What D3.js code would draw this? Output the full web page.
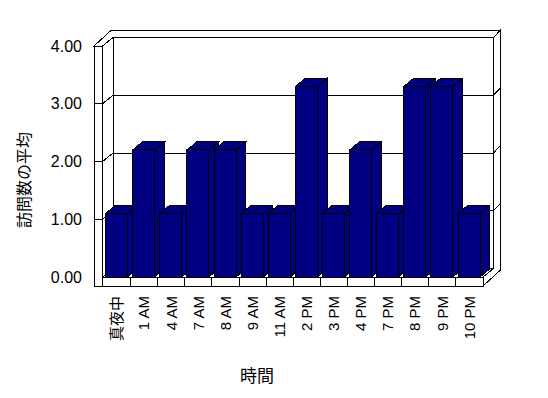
<!DOCTYPE html>
<html>
<head>
<meta charset="utf-8">
<script src="https://cdn.jsdelivr.net/npm/d3@7"></script>
<style>
  body { margin: 0; background: #fff; }
  text { font-family: "Liberation Sans", Arial, "Noto Sans CJK JP", sans-serif; fill: #000; }
  text.cjk { font-family: "Noto Sans CJK JP", sans-serif; }
</style>
</head>
<body>
<svg id="chart" width="548" height="398"></svg>
<script>
// data
var categories = ['真夜中', '1 AM', '4 AM', '7 AM', '8 AM', '9 AM', '11 AM', '2 PM', '3 PM', '4 PM', '7 PM', '8 PM', '9 PM', '10 PM'];
var visits = [1.1, 2.2, 1.1, 2.2, 2.2, 1.1, 1.1, 3.3, 1.1, 2.2, 1.1, 3.3, 3.3, 1.1];
var yTicks = [0, 1, 2, 3, 4];
var yTitle = '訪問数の平均';
var xTitle = '時間';

var barColor = '#000080';
var lineColor = '#000';

var svg = d3.select('#chart');

// front plane scales
var x = d3.scaleBand().domain(categories).range([103.5, 483]);
var y = d3.scaleLinear().domain([0, 4]).range([277, 46]);

// depth of the plot box and thickness of the walls (oblique offsets)
var D = [10.5, -8.5];
var T = [7, -7.5];
var wallW = 8.5;   // left wall thickness
var floorH = 9;    // floor thickness

var x0 = x.range()[0] - 1, x1 = x.range()[1];
var left = x0 - wallW;
var yTop = y(4), yBase = y(0), yFloor = yBase + floorH;

function poly(pts, fill) {
  svg.append('path')
    .attr('d', d3.line()(pts) + 'Z')
    .attr('fill', fill)
    .attr('stroke', lineColor)
    .attr('stroke-width', 1)
    .attr('shape-rendering', 'crispEdges');
}
function seg(a, b) {
  svg.append('line')
    .attr('x1', a[0]).attr('y1', a[1]).attr('x2', b[0]).attr('y2', b[1])
    .attr('stroke', lineColor).attr('stroke-width', 1)
    .attr('shape-rendering', 'crispEdges');
}

// back wall inner face
poly([[x0 + D[0], yTop + D[1]], [x1 + D[0], yTop + D[1]], [x1 + D[0], yBase + D[1]], [x0 + D[0], yBase + D[1]]], '#fff');
// back wall right face
poly([[x1 + D[0], yTop + D[1]], [x1 + D[0] + T[0], yTop + D[1] + T[1]], [x1 + D[0] + T[0], yFloor + D[1] + T[1]], [x1, yFloor], [x1, yBase], [x1 + D[0], yBase + D[1]]], '#fff');
// floor top
poly([[x0, yBase], [x1, yBase], [x1 + D[0], yBase + D[1]], [x0 + D[0], yBase + D[1]]], '#fff');
// floor front
poly([[left, yBase], [x1, yBase], [x1, yFloor], [left, yFloor]], '#fff');
// left wall inner face
poly([[x0, yTop], [x0 + D[0], yTop + D[1]], [x0 + D[0], yBase + D[1]], [x0, yBase]], '#fff');
// left wall front face
poly([[left, yTop], [x0, yTop], [x0, yFloor], [left, yFloor]], '#fff');
// tops of left wall and back wall
poly([[left, yTop], [left + D[0] + T[0], yTop + D[1] + T[1]], [x1 + D[0] + T[0], yTop + D[1] + T[1]],
      [x1 + D[0], yTop + D[1]], [x0 + D[0], yTop + D[1]], [x0, yTop]], '#fff');

// gridlines
yTicks.filter(function(v) { return v > 0 && v < 4; }).forEach(function(v) {
  var yy = y(v);
  seg([left, yy], [x0, yy]);
  seg([x0, yy], [x0 + D[0], yy + D[1]]);
  seg([x0 + D[0], yy + D[1]], [x1 + D[0], yy + D[1]]);
  seg([x1 + D[0], yy + D[1]], [x1 + D[0] + T[0], yy + D[1] + T[1]]);
});

// bars, left to right
var bd = [D[0] * 0.92, D[1] * 0.95];
categories.forEach(function(c, i) {
  var bx = x(c) + x.bandwidth() * 0.08;
  var bw = x.bandwidth() * 0.81;
  var top = y(visits[i]);
  // side
  poly([[bx + bw, top], [bx + bw + bd[0], top + bd[1]], [bx + bw + bd[0], yBase + bd[1]], [bx + bw, yBase]], barColor);
  // top
  poly([[bx, top], [bx + bw, top], [bx + bw + bd[0], top + bd[1]], [bx + bd[0], top + bd[1]]], barColor);
  // front
  poly([[bx, top], [bx + bw, top], [bx + bw, yBase], [bx, yBase]], barColor);
});

// category ticks on the floor front
categories.slice(1).forEach(function(c) {
  seg([x(c), yBase], [x(c), yFloor]);
});

// y labels
svg.selectAll('.ylab').data(yTicks).enter().append('text')
  .attr('x', 82).attr('y', function(d) { return y(d); })
  .attr('dy', '0.35em')
  .attr('text-anchor', 'end')
  .style('font-size', '16px')
  .text(d3.format('.2f'));

// category labels
svg.selectAll('.xlab').data(categories).enter().append('text')
  .attr('class', function(d) { return /[^\x00-\x7f]/.test(d) ? 'cjk' : null; })
  .attr('transform', function(d) { return 'translate(' + (x(d) + x.bandwidth() / 2) + ',296) rotate(-90)'; })
  .attr('dy', '0.35em')
  .attr('text-anchor', 'end')
  .style('font-size', '15px')
  .text(function(d) { return d; });

// titles
svg.append('text')
  .attr('class', 'cjk')
  .attr('transform', 'translate(24,180) rotate(-90)')
  .attr('dy', '0.35em')
  .attr('text-anchor', 'middle')
  .style('font-size', '16px')
  .text(yTitle);

svg.append('text')
  .attr('class', 'cjk')
  .attr('x', 257).attr('y', 382)
  .attr('text-anchor', 'middle')
  .style('font-size', '17px')
  .text(xTitle);
</script>
</body>
</html>
